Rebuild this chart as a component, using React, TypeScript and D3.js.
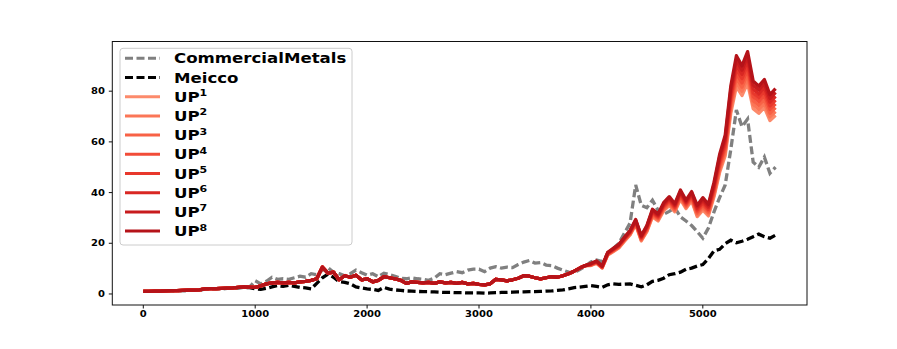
import React from 'react'
import * as d3 from 'd3'

// one sample every 50 days
const steps = d3.range(0, 5651, 50)
const lateSteps = d3.range(4000, 5651, 50)

const commercial = [
  1.0, 1.0, 1.1, 1.1, 1.2, 1.3, 1.3, 1.4, 1.5, 1.5, 1.6, 2.0, 2.1, 2.1, 2.2, 2.3, 2.4, 2.6, 2.8, 2.7,
  5.2, 4.0, 5.0, 6.6, 5.8, 6.0, 5.8, 6.4, 7.0, 6.6, 8.0, 7.6, 9.4, 10.4, 8.6, 8.0, 7.2, 8.0, 9.4, 8.4,
  7.4, 8.0, 6.8, 8.2, 7.6, 7.0, 6.2, 6.0, 6.4, 6.0, 5.8, 5.4, 6.2, 8.0, 7.6, 8.2, 8.8, 8.4, 9.4, 9.8,
  9.8, 8.8, 10.2, 10.8, 10.2, 10.6, 10.4, 11.6, 12.6, 13.2, 12.2, 12.4, 11.4, 11.2, 10.2, 9.4, 8.6, 8.4, 9.6, 11.0,
  12.6, 13.4, 12.8, 15.6, 18.0, 20.0, 24.0, 28.0, 43.0, 35.0, 34.0, 37.0, 33.0, 31.4, 32.6, 34.0, 30.4, 28.8, 27.0, 24.6,
  22.0, 26.0, 32.4, 38.0, 43.0, 57.0, 72.6, 66.0, 69.0, 52.0, 50.0, 54.0, 47.6, 50.0,
]

const meicco = [
  1.0, 1.0, 1.0, 1.1, 1.2, 1.2, 1.3, 1.3, 1.4, 1.4, 1.5, 1.9, 2.0, 2.0, 2.1, 2.2, 2.3, 2.4, 2.6, 2.5,
  2.0, 1.8, 2.2, 2.8, 3.3, 3.0, 3.4, 3.0, 2.6, 2.4, 2.0, 4.2, 6.4, 7.8, 6.6, 4.8, 4.6, 4.0, 2.8, 2.4,
  2.0, 1.8, 1.4, 2.6, 1.9, 1.6, 1.4, 1.2, 1.1, 1.0, 0.9, 0.9, 0.8, 0.7, 0.6, 0.6, 0.5, 0.5, 0.4, 0.4,
  0.4, 0.3, 0.4, 0.5, 0.6, 0.6, 0.7, 0.8, 0.8, 0.9, 0.9, 1.0, 1.1, 1.2, 1.4, 1.6, 2.0, 2.5, 2.7, 3.0,
  3.3, 3.0, 2.6, 3.6, 4.0, 3.8, 3.9, 4.0, 3.4, 2.8, 3.6, 5.0, 5.4, 6.2, 7.6, 8.0, 8.6, 9.8, 10.2, 11.0,
  11.6, 14.0, 17.0, 17.6, 19.8, 21.2, 20.2, 20.8, 21.6, 22.6, 23.6, 22.6, 22.0, 23.2,
]

// the eight UP lines overlap up to day 3950
const upShared = [
  1.0, 1.0, 1.1, 1.1, 1.2, 1.3, 1.3, 1.4, 1.5, 1.5, 1.6, 2.0, 2.1, 2.1, 2.2, 2.3, 2.4, 2.6, 2.8, 2.7,
  2.6, 3.2, 4.0, 4.4, 4.6, 4.4, 4.6, 4.4, 4.8, 5.0, 5.4, 6.0, 10.6, 8.2, 8.6, 5.6, 7.2, 6.6, 7.4, 5.6,
  6.0, 4.8, 5.4, 6.8, 6.4, 6.0, 5.4, 4.2, 4.8, 4.6, 4.4, 4.6, 4.2, 4.8, 4.4, 4.6, 4.2, 4.6, 4.0, 4.2,
  3.8, 3.6, 4.0, 5.8, 5.6, 5.2, 5.6, 6.2, 7.2, 7.0, 6.4, 6.0, 6.4, 6.8, 6.6, 7.2, 8.0, 9.0, 10.2, 11.2,
]

// from day 4000 on they fan out
const up1Late = [11.2, 12.1, 10.2, 15.3, 16.7, 18.2, 20.8, 23.3, 27.3, 20.9, 24.6, 30.4, 28.8, 32.8, 34.9, 32.4, 37.3, 33.7, 36.8, 30.5, 33.1, 30.8, 38.3, 47.9, 54.5, 71.3, 81.8, 78.3, 83.2, 73.1, 71.3, 73.6, 68.4, 70.5]
const up2Late = [11.3, 12.2, 10.3, 15.5, 16.9, 18.4, 21.0, 23.5, 27.6, 21.2, 24.9, 30.8, 29.2, 33.3, 35.4, 32.9, 37.8, 34.2, 37.3, 31.1, 33.8, 31.5, 39.1, 48.9, 55.7, 72.8, 83.5, 80.0, 85.0, 74.7, 72.8, 75.2, 69.9, 72.0]
const up3Late = [11.4, 12.4, 10.4, 15.6, 17.1, 18.6, 21.3, 23.8, 27.9, 21.5, 25.3, 31.3, 29.6, 33.7, 35.9, 33.3, 38.4, 34.6, 37.8, 31.8, 34.5, 32.1, 39.9, 49.9, 56.8, 74.4, 85.3, 81.6, 86.7, 76.2, 74.4, 76.7, 71.3, 73.5]
const up4Late = [11.5, 12.5, 10.5, 15.8, 17.3, 18.8, 21.5, 24.0, 28.2, 21.8, 25.6, 31.7, 30.0, 34.2, 36.4, 33.8, 38.9, 35.1, 38.3, 32.4, 35.2, 32.8, 40.7, 50.9, 58.0, 75.9, 87.0, 83.3, 88.5, 77.8, 75.9, 78.3, 72.8, 75.0]
const up5Late = [11.7, 12.6, 10.7, 15.9, 17.4, 19.0, 21.7, 24.3, 28.5, 22.1, 26.0, 32.1, 30.4, 34.6, 36.9, 34.2, 39.4, 35.6, 38.9, 33.1, 35.9, 33.4, 41.6, 52.0, 59.1, 77.4, 88.8, 85.0, 90.3, 79.3, 77.4, 79.9, 74.2, 76.5]
const up6Late = [11.8, 12.7, 10.8, 16.1, 17.6, 19.2, 21.9, 24.5, 28.8, 22.4, 26.3, 32.5, 30.8, 35.1, 37.4, 34.7, 39.9, 36.1, 39.4, 33.7, 36.6, 34.1, 42.4, 53.0, 60.3, 78.9, 90.5, 86.7, 92.1, 80.9, 78.9, 81.5, 75.7, 78.0]
const up7Late = [11.9, 12.9, 10.9, 16.2, 17.8, 19.4, 22.2, 24.8, 29.1, 22.7, 26.7, 33.0, 31.2, 35.5, 37.9, 35.1, 40.5, 36.5, 39.9, 34.4, 37.3, 34.7, 43.2, 54.0, 61.4, 80.5, 92.3, 88.3, 93.8, 82.4, 80.5, 83.0, 77.1, 79.5]
const up8Late = [12.0, 13.0, 11.0, 16.4, 18.0, 19.6, 22.4, 25.0, 29.4, 23.0, 27.0, 33.4, 31.6, 36.0, 38.4, 35.6, 41.0, 37.0, 40.4, 35.0, 38.0, 35.4, 44.0, 55.0, 62.6, 82.0, 94.0, 90.0, 95.6, 84.0, 82.0, 84.6, 78.6, 81.0]

const upLate = [up1Late, up2Late, up3Late, up4Late, up5Late, up6Late, up7Late, up8Late]
const upLabels = ['1', '2', '3', '4', '5', '6', '7', '8']

const xTicks = [0, 1000, 2000, 3000, 4000, 5000]
const yTicks = [0, 20, 40, 60, 80]

const W = 897
const H = 349
const font = 'DejaVu Sans'
const squash = 0.8

const Txt = ({x, y, anchor = 'start', size, children}: any) => (
  <text
    transform={`translate(${x},${y}) scale(1,${squash})`}
    textAnchor={anchor}
    fontFamily={font}
    fontWeight='bold'
    fontSize={size}
    fill='#000'
  >
    {children}
  </text>
)

export default function App() {
  const left = 112.3, right = 807, top = 41.5, bottom = 305
  const x = d3.scaleLinear().domain([-277, 5931]).range([left, right])
  const y = d3.scaleLinear().domain([-4.35, 99.6]).range([bottom, top])

  const line = d3.line<[number, number]>()
    .x(d => x(d[0]))
    .y(d => y(d[1]))

  const upColors = upLabels.map((_, i) => d3.interpolateReds(0.4 + i * 0.06))

  const cmPts = steps.map((s, i) => [s, commercial[i]] as [number, number])
  const mePts = steps.map((s, i) => [s, meicco[i]] as [number, number])
  const upSeries = upLate.map(late => [
    ...upShared.map((v, i) => [steps[i], v] as [number, number]),
    ...late.map((v, i) => [lateSteps[i], v] as [number, number]),
  ])

  const legendItems = [
    {label: 'CommercialMetals', color: '#808080', dash: true, sup: null},
    {label: 'Meicco', color: '#000000', dash: true, sup: null},
    ...upLabels.map((n, i) => ({label: 'UP', color: upColors[i], dash: false, sup: n})),
  ]

  return (
    <svg width={W} height={H} style={{position: 'absolute', left: 0, top: 0, background: '#fff'}}>
      <rect x={0} y={0} width={W} height={H} fill='#fff' />

      <path d={line(cmPts) || ''} fill='none' stroke='#808080' strokeWidth={3.3} strokeDasharray='8,3.5' />
      <path d={line(mePts) || ''} fill='none' stroke='#000' strokeWidth={3.3} strokeDasharray='8,3.5' />
      {upSeries.map((pts, i) => (
        <path key={i} d={line(pts) || ''} fill='none' stroke={upColors[i]} strokeWidth={3.3} strokeLinejoin='round' />
      ))}

      {/* axes frame */}
      <rect x={left} y={top} width={right - left} height={bottom - top} fill='none' stroke='#111' strokeWidth={1} />

      {xTicks.map(t => (
        <g key={t}>
          <line x1={x(t)} x2={x(t)} y1={bottom} y2={bottom + 3.5} stroke='#111' />
          <Txt x={x(t)} y={317} anchor='middle' size={10}>{t}</Txt>
        </g>
      ))}
      {yTicks.map(t => (
        <g key={t}>
          <line x1={left - 3.5} x2={left} y1={y(t)} y2={y(t)} stroke='#111' />
          <Txt x={105} y={y(t) + 3} anchor='end' size={10}>{t}</Txt>
        </g>
      ))}

      {/* legend */}
      <rect x={120} y={48.3} width={232} height={196.7} rx={3} fill='#fff' fillOpacity={0.8} stroke='#ccc' strokeWidth={1} />
      {legendItems.map((it, i) => {
        const ly = 58.3 + i * 19.2
        return (
          <g key={i}>
            <line x1={125} x2={160} y1={ly} y2={ly} stroke={it.color} strokeWidth={3}
              strokeDasharray={it.dash ? '8,3.5' : undefined} />
            <Txt x={174} y={ly + 5} size={16.6}>
              {it.label}
              {it.sup && <tspan fontSize={11} dy={-7}>{it.sup}</tspan>}
            </Txt>
          </g>
        )
      })}
    </svg>
  )
}
